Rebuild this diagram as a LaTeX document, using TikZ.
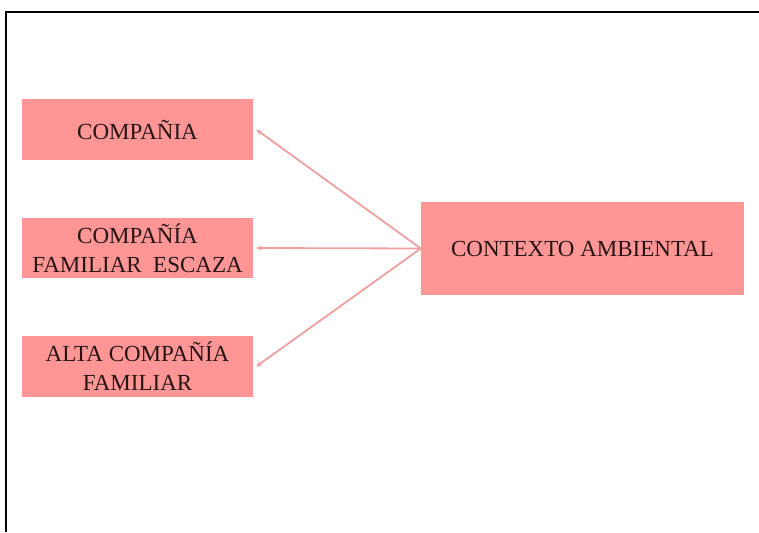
\documentclass[tikz,border=0pt]{standalone}
\usepackage{fontspec}
\setmainfont{Liberation Serif}
\usetikzlibrary{arrows.meta}
\definecolor{boxpink}{RGB}{255,150,150}
\definecolor{linepink}{RGB}{238,160,160}
\definecolor{textdark}{RGB}{40,20,20}
\begin{document}
\begin{tikzpicture}[x=1pt, y=-1pt,
	pinkbox/.style={fill=boxpink, draw=none, text=textdark, align=center, inner sep=0pt, font=\fontsize{23}{29}\selectfont},
	conn/.style={draw=linepink, line width=1.8pt, -{Stealth[length=6pt,width=5pt]}}]
		\useasboundingbox (0,0) rectangle (759,532);
		%frame
		\draw[line width=2pt] (6,532) -- (6,12) -- (759,12);
		
		%left boxes
		\node[pinkbox, minimum width=231pt, minimum height=61pt] (comp) at (137.5,129.5){COMPAÑIA};
		\node[pinkbox, minimum width=231pt, minimum height=60pt] (escaza) at (137.5,248){COMPAÑÍA\\FAMILIAR\ \ ESCAZA};
		\node[pinkbox, minimum width=231pt, minimum height=61pt] (alta) at (137.5,366.5){ALTA COMPAÑÍA\\FAMILIAR};
		
		%right box
		\node[pinkbox, minimum width=323pt, minimum height=93pt] (ctx) at (582.5,248.5){CONTEXTO AMBIENTAL};
		
		\foreach \t in {comp, escaza, alta}{
			\draw[conn] (ctx.west) -- ([xshift=3pt]\t.east);
		}
\end{tikzpicture}
\end{document}
